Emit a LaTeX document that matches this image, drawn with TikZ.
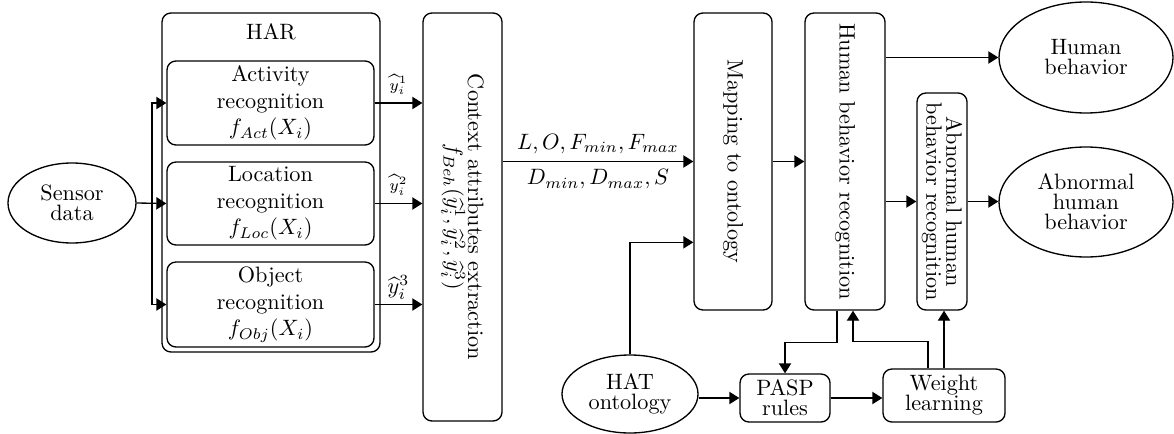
\documentclass[tikz,border=0pt]{standalone}
\usetikzlibrary{shapes.geometric,arrows.meta,calc}
\begin{document}
\begin{tikzpicture}[x=0.45pt,y=-0.45pt,
  every node/.style={font=\fontsize{10}{9}\selectfont},
  box/.style={draw, rounded corners=4pt, inner sep=0pt, line width=0.6pt},
  oval/.style={draw, ellipse, inner sep=0pt, line width=0.6pt, align=center},
  arr/.style={-{Triangle[length=4.5pt,width=5.5pt]}, line width=0.6pt},
  rtext/.style={rotate=-90, align=center}]
\useasboundingbox (0,0) rectangle (1174,433);
% left part
\node[oval, minimum width=128*0.45pt, minimum height=80*0.45pt] (sensor) at (72,203) {Sensor\\data};
\node[box, minimum width=218*0.45pt, minimum height=339*0.45pt] (har) at (271,182.5) {};
\node (hartitle) at (271,32) {HAR};
\node[box, minimum width=207*0.45pt, minimum height=84*0.45pt, align=center, font=\normalsize] (act) at (270.5,103) {Activity\\recognition\\$f_{Act}(X_i)$};
\node[box, minimum width=207*0.45pt, minimum height=83*0.45pt, align=center, font=\normalsize] (loc) at (270.5,203.5) {Location\\recognition\\$f_{Loc}(X_i)$};
\node[box, minimum width=207*0.45pt, minimum height=85*0.45pt, align=center, font=\normalsize] (obj) at (270.5,304.5) {Object\\recognition\\$f_{Obj}(X_i)$};
\coordinate (br) at (152,203);
\draw[arr] (sensor.east) -- (loc.west);
\draw[arr] (br) |- (act.west);
\draw[arr] (br) |- (obj.west);
% context
\node[box, minimum width=79*0.45pt, minimum height=408*0.45pt] (ctx) at (462.5,217) {};
\node[rtext, font=\fontsize{10}{9.5}\selectfont] (ctxt) at (ctx.center) {Context attributes extraction\\$f_{Beh}(\widehat{y}_i^1, \widehat{y}_i^2, \widehat{y}_i^3)$};
\draw[arr] (act.east) -- (act.east -| ctx.west) node[midway, above, font=\scriptsize] {$\widehat{y}_i^1$};
\draw[arr] (loc.east) -- (loc.east -| ctx.west) node[midway, above, font=\scriptsize] {$\widehat{y}_i^2$};
\draw[arr] (obj.east) -- (obj.east -| ctx.west) node[midway, above, font=\normalsize, inner sep=2pt] {$\widehat{y}_i^3$};
% mapping
\node[box, minimum width=78*0.45pt, minimum height=297*0.45pt] (map) at (733,161.5) {};
\node[rtext] (mapt) at (map.center) {Mapping to ontology};
\draw[arr] (ctx.east |- map.west) -- (map.west)
  node[midway, above, font=\normalsize] {$L, O, F_{min}, F_{max}$}
  node[midway, below, font=\normalsize] {$D_{min}, D_{max}, S$};
% HAT
\node[oval, minimum width=136*0.45pt, minimum height=78*0.45pt] (hat) at (630,394) {HAT\\ontology};
\draw[arr] (hat.north) |- ($(map.north west)!0.771!(map.south west)$);
% HBR
\node[box, minimum width=80*0.45pt, minimum height=297*0.45pt] (hbr) at (845,161.5) {};
\node[rtext] (hbrt) at (hbr.center) {Human behavior recognition};
\draw[arr] (map.east) -- (hbr.west);
% abnormal box
\node[box, minimum width=50*0.45pt, minimum height=217*0.45pt] (abn) at (942,201.5) {};
\node[rtext] (abnt) at (abn.center) {Abnormal human\\behavior recognition};
% outputs
\node[oval, minimum width=174*0.45pt, minimum height=111*0.45pt] (hb) at (1086,57.5) {Human\\behavior};
\node[oval, minimum width=174*0.45pt, minimum height=110*0.45pt] (ahb) at (1086,202) {Abnormal\\human\\behavior};
\draw[arr] (hbr.east |- hb.west) -- (hb.west);
\draw[arr] (hbr.east |- abn.west) -- (abn.west);
\draw[arr] (abn.east) -- (abn.east -| ahb.west);
% bottom
\node[box, minimum width=90*0.45pt, minimum height=48*0.45pt, align=center] (pasp) at (785,398) {PASP\\rules};
\node[box, minimum width=122*0.45pt, minimum height=53*0.45pt, align=center] (wl) at (944,395.5) {Weight\\learning};
\draw[arr] (hat.east |- pasp.west) -- (pasp.west);
\draw[arr] (pasp.east) -- (pasp.east -| wl.west);
\draw[arr] ([xshift=-8*0.45pt]hbr.south) -- ++(0,32) -| (pasp.north);
\draw[arr] ([xshift=-16*0.45pt]wl.north) -- ++(0,-27) -| ([xshift=8*0.45pt]hbr.south);
\draw[arr] (wl.north) -- (wl.north |- abn.south);
\end{tikzpicture}
\end{document}
